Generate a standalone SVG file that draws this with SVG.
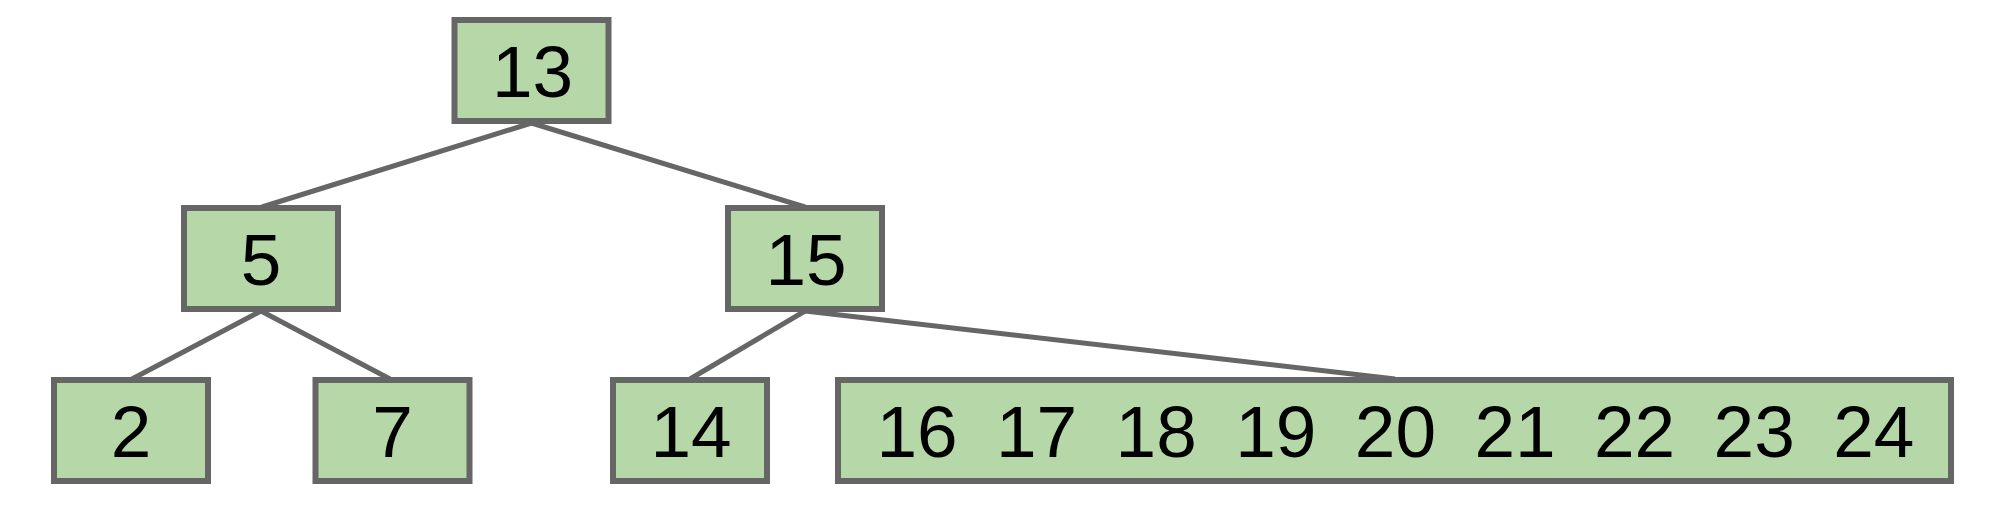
<svg xmlns="http://www.w3.org/2000/svg" width="1989" height="508" viewBox="0 0 1989 508">
<style>
.box{fill:#b6d7a8;stroke:#666666;stroke-width:6}
.lbl{font-family:"Liberation Sans",Arial,sans-serif;font-size:73px;fill:#000;text-anchor:middle}
.edge{stroke:#666666;stroke-width:5;fill:none}
</style>
<rect width="1989" height="508" fill="#ffffff"/>
<g id="connectors">
<line class="edge" x1="531.5" y1="123" x2="262" y2="207"/>
<line class="edge" x1="531.5" y1="123" x2="805" y2="207"/>
<line class="edge" x1="261" y1="311" x2="132" y2="379"/>
<line class="edge" x1="261" y1="311" x2="390" y2="379"/>
<line class="edge" x1="805" y1="311" x2="690" y2="379"/>
<line class="edge" x1="805" y1="311" x2="1395" y2="379"/>
</g>
<g id="n13"><rect class="box" x="454.5" y="20" width="154" height="101"/><text class="lbl" x="532.5" y="97">13</text></g>
<g id="n5"><rect class="box" x="184" y="208" width="154" height="101"/><text class="lbl" x="261" y="285">5</text></g>
<g id="n15"><rect class="box" x="728" y="208" width="154" height="101"/><text class="lbl" x="806" y="285">15</text></g>
<g id="n2"><rect class="box" x="54" y="380" width="154" height="101"/><text class="lbl" x="131" y="457">2</text></g>
<g id="n7"><rect class="box" x="315.5" y="380" width="154" height="101"/><text class="lbl" x="392.5" y="457">7</text></g>
<g id="n14"><rect class="box" x="613" y="380" width="154" height="101"/><text class="lbl" x="691" y="457">14</text></g>
<g id="n16to24"><rect class="box" x="838" y="380" width="1113" height="101"/><text class="lbl" y="457"><tspan x="917">16</tspan><tspan x="1036.6">17</tspan><tspan x="1156.2">18</tspan><tspan x="1275.8">19</tspan><tspan x="1395.4">20</tspan><tspan x="1515">21</tspan><tspan x="1634.6">22</tspan><tspan x="1754.2">23</tspan><tspan x="1873.8">24</tspan></text></g>
</svg>
